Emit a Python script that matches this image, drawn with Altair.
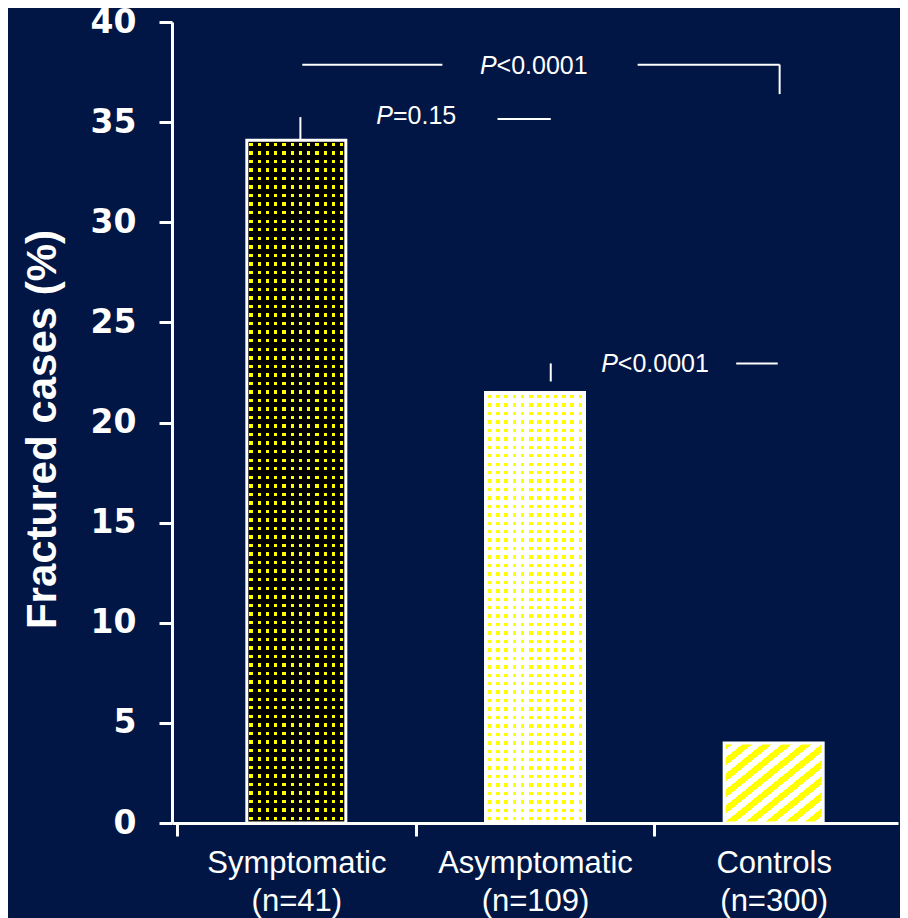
import altair as alt
import pandas as pd

# ---- data ----
categories = ["Symptomatic", "Asymptomatic", "Controls"]
sample_sizes = [41, 109, 300]
fractured_pct = [34.1, 21.5, 4.0]

# significance brackets (x in category units, y in %)
seg_x = [0.525, 1.930, 2.525, 0.517, 1.343, 1.566, 2.343]
seg_x2 = [1.112, 2.525, 2.525, 0.517, 1.566, 1.566, 2.517]
seg_y = [37.87, 37.87, 37.87, 34.1, 35.15, 22.95, 22.95]
seg_y2 = [37.87, 37.87, 36.4, 35.25, 35.15, 22.05, 22.95]

p_text = ["<0.0001", "=0.15", "<0.0001"]
p_x = [1.339, 0.905, 1.847]
p_y = [37.82, 35.3, 22.9]

# ---- styling constants ----
BG = "#011644"
YELLOW = "#ffff00"
CLEAR = "rgba(0,0,0,0)"
W, H = 726, 801
PX_PER_UNIT = H / 40.0
BAR_W = 99
PITCH = 8.5
DOT = 3.4

bars = pd.DataFrame({
    "category": categories,
    "n": sample_sizes,
    "value": fractured_pct,
    "pos": [i + 0.5 for i in range(len(categories))],
})
segs = pd.DataFrame({"pos": seg_x, "pos2": seg_x2, "value": seg_y, "value2": seg_y2})
ptxt = pd.DataFrame({"pos": p_x, "value": p_y, "txt": p_text})


def mask_gradient(length_px, bg, vertical):
    n = max(1, round(length_px / PITCH))
    f = DOT / (length_px / n)
    stops = []
    for k in range(n):
        d0 = (k + (1 - f) / 2) / n
        d1 = (k + (1 + f) / 2) / n
        stops += [
            {"offset": k / n, "color": bg},
            {"offset": d0, "color": bg},
            {"offset": d0, "color": CLEAR},
            {"offset": d1, "color": CLEAR},
            {"offset": d1, "color": bg},
            {"offset": (k + 1) / n, "color": bg},
        ]
    g = {"gradient": "linear", "stops": stops, "x1": 0, "y1": 0}
    if vertical:
        g.update({"x2": 0, "y2": 1})
    else:
        g.update({"x2": 1, "y2": 0})
    return g


def stripe_gradient(n, c1, c2):
    stops = []
    for k in range(n):
        a, m, b = k / n, (k + 0.5) / n, (k + 1) / n
        stops += [
            {"offset": a, "color": c1},
            {"offset": m, "color": c1},
            {"offset": m, "color": c2},
            {"offset": b, "color": c2},
        ]
    return {"gradient": "linear", "stops": stops, "x1": 0, "y1": 0, "x2": 1, "y2": 1}


label_expr = " : ".join(
    f"datum.value == {i + 0.5} ? ['{c}', '(n={n})']" for i, (c, n) in enumerate(zip(categories, sample_sizes))
) + " : ''"

x_main = alt.X(
    "pos:Q",
    scale=alt.Scale(domain=[0, 3], nice=False, zero=False),
    axis=alt.Axis(
        values=[0, 0.5, 1, 1.5, 2, 2.5],
        tickOpacity={"condition": {"test": "datum.value % 1 === 0", "value": 1}, "value": 0},
        labelExpr=label_expr,
        labelOverlap=False, labelFlush=False, labelBound=False, labelLimit=0,
        grid=False, title=None,
        domainColor="white", domainWidth=3,
        tickColor="white", tickWidth=3, tickSize=13,
        labelFont="Liberation Sans", labelFontSize=31, labelColor="white",
        labelLineHeight=38, labelPadding=12, labelBaseline="top",
    ),
)
y_main = alt.Y(
    "value:Q",
    scale=alt.Scale(domain=[0, 40], nice=False),
    axis=alt.Axis(
        values=list(range(0, 41, 5)),
        grid=False,
        domainColor="white", domainWidth=3,
        tickColor="white", tickWidth=3, tickSize=13,
        labelFont="DejaVu Sans", labelFontWeight="bold", labelFontSize=33,
        labelColor="white", labelPadding=23,
        labelFlush=False, labelOverlap=False, labelBound=False,
        title="Fractured cases (%)", titleFont="Liberation Sans", titleFontSize=42,
        titleFontWeight="bold", titleColor="white", titlePadding=26, titleY=407,
    ),
)
x_plain = alt.X("pos:Q")
y_plain = alt.Y("value:Q")

base = alt.Chart(bars)

layers = [
    base.mark_bar(size=BAR_W, fill=YELLOW, orient="vertical").encode(x=x_main, y=y_main, y2=alt.datum(0))
]

for cat, val in zip(categories, fractured_pct):
    sub = base.transform_filter(alt.datum.category == cat)
    h_px = val * PX_PER_UNIT
    if cat == "Controls":
        layers.append(
            sub.mark_bar(size=BAR_W, fill=stripe_gradient(10, YELLOW, "white"), orient="vertical")
            .encode(x=x_plain, y=y_plain, y2=alt.datum(0))
        )
    else:
        bg = "#000000" if cat == "Symptomatic" else "#ffffff"
        layers.append(
            sub.mark_bar(size=BAR_W, fill=mask_gradient(h_px, bg, True), orient="vertical")
            .encode(x=x_plain, y=y_plain, y2=alt.datum(0))
        )
        layers.append(
            sub.mark_bar(size=BAR_W, fill=mask_gradient(BAR_W, bg, False), orient="vertical")
            .encode(x=x_plain, y=y_plain, y2=alt.datum(0))
        )

layers.append(
    base.mark_bar(size=BAR_W, fillOpacity=0, stroke="white", strokeWidth=3, orient="vertical")
    .encode(x=x_plain, y=y_plain, y2=alt.datum(0))
)

layers.append(
    alt.Chart(segs).mark_rule(color="white", strokeWidth=2).encode(
        x=x_plain, x2="pos2:Q", y=y_plain, y2="value2:Q"
    )
)
layers.append(
    alt.Chart(ptxt).mark_text(
        text="P", align="right", baseline="middle", font="Liberation Sans",
        fontSize=25, fontStyle="italic", color="white"
    ).encode(x=x_plain, y=y_plain)
)
layers.append(
    alt.Chart(ptxt).mark_text(
        align="left", baseline="middle", font="Liberation Sans", fontSize=25, color="white"
    ).encode(x=x_plain, y=y_plain, text="txt:N")
)

chart = (
    alt.layer(*layers)
    .properties(
        width=W, height=H,
        autosize=alt.AutoSizeParams(type="none"),
        padding={"left": 164, "top": 14, "right": 2, "bottom": 95},
        background=BG,
    )
    .configure_view(strokeWidth=0)
)

chart.save("out.html", embed_options={"renderer": "svg", "actions": False})
